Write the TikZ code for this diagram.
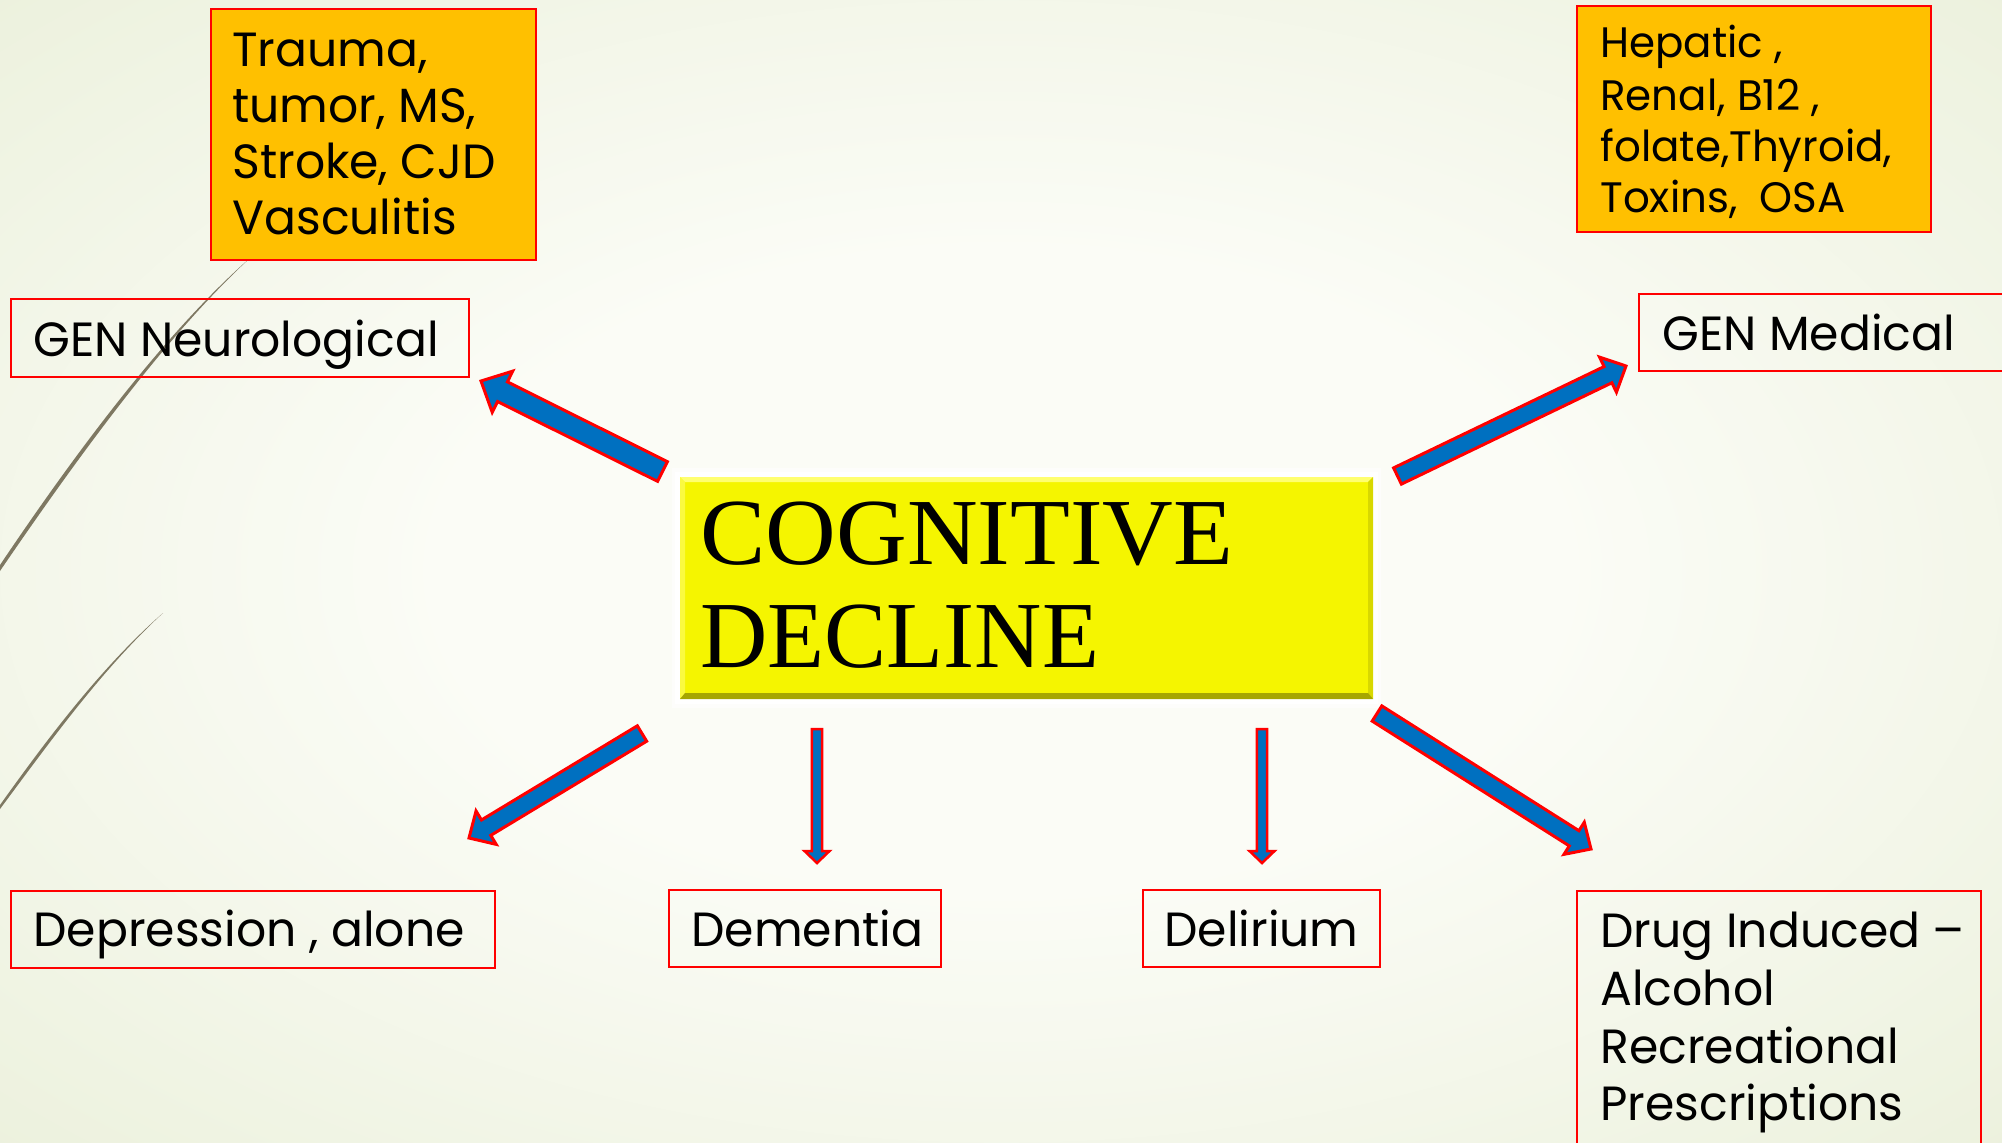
\documentclass[tikz,border=0pt]{standalone}
\usepackage{fontspec}
\usetikzlibrary{calc}
\newfontfamily\gothic[FakeStretch=0.985]{Poppins}
\newfontfamily\castwide[FakeStretch=1.035]{Liberation Serif}
\newfontfamily\castnarrow[FakeStretch=0.985]{Liberation Serif}
\definecolor{bgin}{HTML}{FBFCF6}
\definecolor{bgmid}{HTML}{ECF1DD}
\definecolor{bgout}{HTML}{DEE5C8}
\definecolor{orangefill}{HTML}{FFC000}
\definecolor{arrblue}{HTML}{0070C0}
\definecolor{cogyellow}{HTML}{F5F500}
\definecolor{curvecol}{HTML}{7E7862}
\definecolor{bevtop}{HTML}{FFFF70}
\definecolor{bevleft}{HTML}{FAFA40}
\definecolor{bevbot}{HTML}{A6A600}
\definecolor{bevright}{HTML}{D8D800}
\pgfdeclareradialshading{bgshade}{\pgfpoint{0bp}{0bp}}{color(0bp)=(bgin); color(14bp)=(bgin); color(36bp)=(bgmid); color(50bp)=(bgout)}
\tikzset{
  redbox/.style={draw=red, line width=1pt, inner sep=0pt, outer sep=0pt, anchor=north west},
  orangebox/.style={redbox, fill=orangefill},
  lbl/.style={anchor=base west, inner sep=0pt, font=\gothic\fontsize{24}{28}\selectfont},
  lblsm/.style={anchor=base west, inner sep=0pt, font=\gothic\fontsize{21.3}{25}\selectfont},
  arr/.style={draw=red, fill=arrblue, line width=1.5pt, line join=miter},
  thinarr/.style={arr, line width=1.25pt},
  cogbox/.style={fill=cogyellow, inner sep=0pt, outer sep=0pt, anchor=north west},
  cogtxt/.style={anchor=base west, inner sep=0pt},
}
% #1 tail, #2 tip, #3 shaft half width, #4 head half width, #5 head length, #6 neck name, #7 style
\newcommand{\fatarrow}[7]{%
  \path ($(#2)!#5!(#1)$) coordinate (#6);
  \draw[#7] ($(#1)!#3!90:(#2)$) -- ($(#6)!#3!-90:(#1)$) -- ($(#6)!#4!-90:(#1)$) -- (#2)
    -- ($(#6)!#4!90:(#1)$) -- ($(#6)!#3!90:(#1)$) -- ($(#1)!#3!-90:(#2)$) -- cycle;
}
\begin{document}
\begin{tikzpicture}[x=0.5pt,y=-0.5pt]
\useasboundingbox (0,0) rectangle (2002,1142);
\shade[shading=bgshade] (0,0) rectangle (2002,1142);
% decorative curves
\fill[curvecol] (0,565) .. controls (80,446) and (167,331) .. (250,258) .. controls (168,334) and (82,451) .. (0,571) -- cycle;
\fill[curvecol] (0,805) .. controls (45,742) and (100,668) .. (163,613) .. controls (101,670) and (47,746) .. (0,809) -- cycle;

% boxes
\node[orangebox, minimum width=162.5pt, minimum height=125.5pt] (tl) at (211,9) {};
\node[lbl] (tl1) at (232,66) {Trauma,};
\node[lbl] (tl2) at (232,122) {tumor, MS,};
\node[lbl] (tl3) at (232,178) {Stroke, CJD};
\node[lbl] (tl4) at (232,234) {Vasculitis};

\node[orangebox, minimum width=177pt, minimum height=113pt] (tr) at (1577,6) {};
\node[lblsm] (tr1) at (1600,57) {Hepatic ,};
\node[lblsm] (tr2) at (1600,110) {Renal, B12 ,};
\node[lblsm] (tr3) at (1600,161) {folate,Thyroid,};
\node[lblsm] (tr4) at (1600,212) {Toxins,\ \ OSA};

\node[redbox, minimum width=229pt, minimum height=39pt] (neuro) at (11,299) {};
\node[lbl] (neurot) at (33,356) {GEN Neurological};

\node[redbox, minimum width=190pt, minimum height=38.5pt] (med) at (1639,294) {};
\node[lbl] (medt) at (1662,350) {GEN Medical};

\node[redbox, minimum width=242pt, minimum height=38.5pt] (dep) at (11,891) {};
\node[lbl] (dept) at (33,946) {Depression , alone};

\node[redbox, minimum width=136pt, minimum height=38.5pt] (dem) at (669,890) {};
\node[lbl] (demt) at (691,946) {Dementia};

\node[redbox, minimum width=118.5pt, minimum height=38.5pt] (del) at (1143,890) {};
\node[lbl] (delt) at (1164,946) {Delirium};

\node[redbox, minimum width=202pt, minimum height=135pt] (drug) at (1577,891) {};
\node[lbl] (drug1) at (1600,947) {Drug Induced –};
\node[lbl] (drug2) at (1600,1005) {Alcohol};
\node[lbl] (drug3) at (1600,1063) {Recreational};
\node[lbl] (drug4) at (1600,1120) {Prescriptions};

% central box
\fill[white, opacity=0.6] (672,468) rectangle (1381,708);
\fill[white] (675,472) rectangle (1378,704);
\node[cogbox, minimum width=346.5pt, minimum height=111pt] (cd) at (680,477) {};
\fill[bevtop] (cd.north west) -- (cd.north east) -- ++(-5,5) -- ($(cd.north west)+(5,5)$) -- cycle;
\fill[bevleft] (cd.north west) -- ++(5,5) -- ($(cd.south west)+(5,-5)$) -- (cd.south west) -- cycle;
\fill[bevright] (cd.north east) -- ++(-5,5) -- ($(cd.south east)+(-5,-5)$) -- (cd.south east) -- cycle;
\fill[bevbot] (cd.south west) -- ++(5,-6) -- ($(cd.south east)+(-5,-6)$) -- (cd.south east) -- cycle;
\node[cogtxt, font=\castwide\fontsize{47.3}{50}\selectfont] (cd1) at (700,564) {COGNITIVE};
\node[cogtxt, font=\castnarrow\fontsize{47.3}{50}\selectfont] (cd2) at (700,667) {DECLINE};

% arrows
\coordinate (a1s) at (662.5,471.5); \coordinate (a1e) at (481,381);
\coordinate (a2s) at (1397.5,476);  \coordinate (a2e) at (1626,366);
\coordinate (a3s) at (642,733.5);   \coordinate (a3e) at (469,838);
\coordinate (a4s) at (817,729);     \coordinate (a4e) at (817,863);
\coordinate (a5s) at (1262,729);    \coordinate (a5e) at (1262,863);
\coordinate (a6s) at (1377,713.5);  \coordinate (a6e) at (1591,849);
\fatarrow{a1s}{a1e}{5.5pt}{11.5pt}{12pt}{a1n}{arr}
\fatarrow{a2s}{a2e}{4.5pt}{9.75pt}{10pt}{a2n}{arr}
\fatarrow{a3s}{a3e}{4.5pt}{9.75pt}{10pt}{a3n}{arr}
\fatarrow{a6s}{a6e}{4.5pt}{9.5pt}{10pt}{a6n}{arr}
\fatarrow{a4s}{a4e}{2.6pt}{6.25pt}{6pt}{a4n}{thinarr}
\fatarrow{a5s}{a5e}{2.6pt}{6.25pt}{6pt}{a5n}{thinarr}
\end{tikzpicture}
\end{document}
